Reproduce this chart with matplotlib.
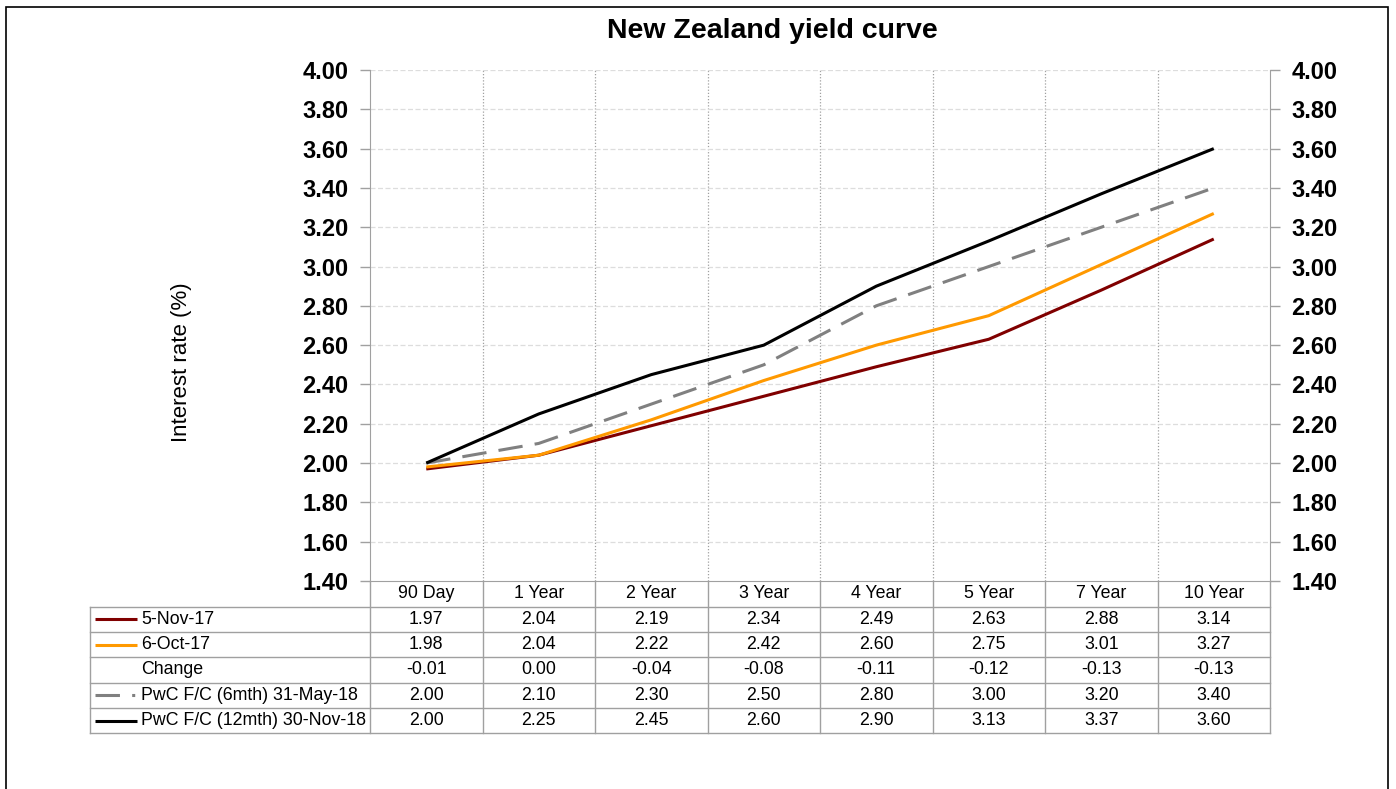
import matplotlib.pyplot as plt
from matplotlib.transforms import blended_transform_factory
from matplotlib.lines import Line2D
from matplotlib.patches import Rectangle

plt.rcParams['font.family'] = ['Liberation Sans', 'DejaVu Sans']

# 数据
tenors = ["90 Day", "1 Year", "2 Year", "3 Year", "4 Year", "5 Year", "7 Year", "10 Year"]
nov17 = [1.97, 2.04, 2.19, 2.34, 2.49, 2.63, 2.88, 3.14]
oct17 = [1.98, 2.04, 2.22, 2.42, 2.60, 2.75, 3.01, 3.27]
change = [-0.01, 0.00, -0.04, -0.08, -0.11, -0.12, -0.13, -0.13]
fc_6m = [2.00, 2.10, 2.30, 2.50, 2.80, 3.00, 3.20, 3.40]
fc_12m = [2.00, 2.25, 2.45, 2.60, 2.90, 3.13, 3.37, 3.60]
yticks = [1.40, 1.60, 1.80, 2.00, 2.20, 2.40, 2.60, 2.80, 3.00, 3.20, 3.40, 3.60, 3.80, 4.00]

W, H = 1396, 789
fig = plt.figure(figsize=(W / 100, H / 100), dpi=100)


def fx(px):
    return px / W


def fy(py):
    return 1 - py / H


# 外框
fig.add_artist(Rectangle((fx(6), fy(800)), fx(1388) - fx(6), fy(7) - fy(800),
                         transform=fig.transFigure, fill=False, edgecolor="black", lw=1.2))

ax = fig.add_axes([fx(370), fy(581), fx(1270) - fx(370), fy(70) - fy(581)])
x = list(range(len(tenors)))

series = [
    ("5-Nov-17", nov17, dict(color="#800000", lw=2.2, ls="-")),
    ("6-Oct-17", oct17, dict(color="#FF9900", lw=2.2, ls="-")),
    ("PwC F/C (6mth) 31-May-18", fc_6m, dict(color="#808080", lw=2.2, ls=(0, (8, 4)))),
    ("PwC F/C (12mth) 30-Nov-18", fc_12m, dict(color="black", lw=2.2, ls="-")),
]
for name, vals, st in series:
    ax.plot(x, vals, solid_capstyle="butt", dash_capstyle="butt", zorder=3, **st)

ax.set_xlim(-0.5, len(tenors) - 0.5)
ax.set_ylim(1.40, 4.00)
ax.set_yticks(yticks)
ax.set_yticklabels([f"{v:.2f}" for v in yticks], fontsize=17, fontweight="bold")
ax.tick_params(axis="y", direction="out", length=7, color="#A0A0A0", width=1,
               pad=8.5, labelright=True, right=True)
ax.set_xticks([])
for i in range(1, len(tenors)):
    ax.axvline(i - 0.5, color="#A0A0A0", lw=0.9, ls=(0, (1, 1.5)), zorder=1)
for v in yticks[1:]:
    ax.axhline(v, color="#DDDDDD", lw=0.9, ls=(0, (4, 2)), zorder=1)
ax.spines["top"].set_visible(False)
for s in ["left", "right", "bottom"]:
    ax.spines[s].set_color("#A0A0A0")
ax.set_ylabel("Interest rate (%)", fontsize=16)
ax.yaxis.set_label_coords((192 - 370) / 900, 1 - (362 - 70) / 511)

fig.text(fx(772), fy(31), "New Zealand yield curve", ha="center", va="center",
         fontsize=20.5, fontweight="bold")

# 数据表
trans = blended_transform_factory(ax.transData, fig.transFigure)
row_y = [581, 606.5, 632, 657, 682.5, 708, 733]
grid_c = "#A0A0A0"
for yy in row_y[1:]:
    fig.add_artist(Line2D([fx(90), fx(1270)], [fy(yy), fy(yy)], transform=fig.transFigure,
                          color=grid_c, lw=1))
for i in range(len(tenors) + 1):
    ax.add_artist(Line2D([i - 0.5, i - 0.5], [fy(row_y[0]), fy(row_y[-1])], transform=trans,
                         color=grid_c, lw=1, clip_on=False))
fig.add_artist(Line2D([fx(90), fx(90)], [fy(row_y[1]), fy(row_y[-1])], transform=fig.transFigure,
                      color=grid_c, lw=1))

ctr = [(row_y[k] + row_y[k + 1]) / 2 for k in range(len(row_y) - 1)]
for i, t in enumerate(tenors):
    ax.text(i, fy(ctr[0]), t, transform=trans, ha="center", va="center", fontsize=12.8)

rows = [
    ("5-Nov-17", nov17, series[0][2]),
    ("6-Oct-17", oct17, series[1][2]),
    ("Change", change, None),
    ("PwC F/C (6mth) 31-May-18", fc_6m, dict(color="#808080", lw=2.2, ls=(0, (8, 4, 1, 4)))),
    ("PwC F/C (12mth) 30-Nov-18", fc_12m, series[3][2]),
]
for k, (name, vals, st) in enumerate(rows):
    yc = fy(ctr[k + 1])
    if st is not None:
        fig.add_artist(Line2D([fx(95), fx(137)], [yc, yc], transform=fig.transFigure,
                              solid_capstyle="butt", dash_capstyle="butt", **st))
    fig.text(fx(141), yc, name, ha="left", va="center", fontsize=12.8)
    for i, v in enumerate(vals):
        ax.text(i, yc, f"{v:.2f}", transform=trans, ha="center", va="center", fontsize=12.8)

fig.savefig("out.png", dpi=100)
